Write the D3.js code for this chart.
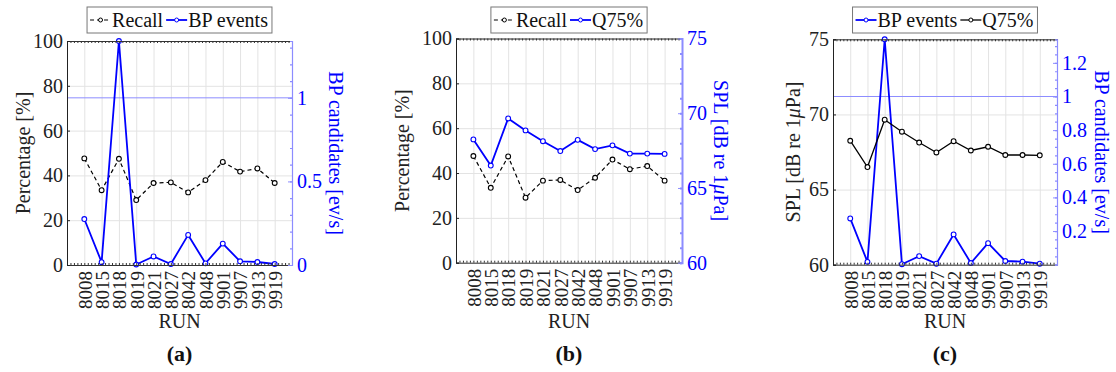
<!DOCTYPE html>
<html>
<head>
<meta charset="utf-8">
<script src="https://cdn.jsdelivr.net/npm/d3@7"></script>
<style>
  body { margin: 0; background: #fff; }
  svg { display: block; font-family: "Liberation Serif", serif; }
  .grid line { stroke: #e3e3e3; stroke-width: 1; }
  .grid path { display: none; }
</style>
</head>
<body>
<svg id="chart" width="1116" height="372"></svg>
<script>
// data
const runs = ["8008", "8015", "8018", "8019", "8021", "8027", "8042", "8048", "9901", "9907", "9913", "9919"];
const recall = [47.6, 33.4, 47.4, 29.0, 36.6, 36.9, 32.4, 37.9, 46.0, 41.7, 43.1, 36.6];
const q75 = [68.25, 66.5, 69.65, 68.85, 68.13, 67.47, 68.22, 67.6, 67.85, 67.3, 67.3, 67.28];
const bpEvents = [0.275, 0.017, 1.34, 0.003, 0.051, 0.006, 0.18, 0.01, 0.128, 0.022, 0.018, 0.006];

const pctTicks = [0, 20, 40, 60, 80, 100];
const splTicks = [60, 65, 70, 75];
const bpTicksA = [0, 0.5, 1];
const bpTicksC = [0.2, 0.4, 0.6, 0.8, 1, 1.2];

const BLUE = "#0000ff";
const AXBLUE = "#8c8cff";
const FONT = "Liberation Serif";

const svg = d3.select("#chart");

function splTitle(t) {
  t.append("tspan").text("SPL [dB re 1");
  t.append("tspan").attr("font-style", "italic").text("\u03bc");
  t.append("tspan").text("Pa]");
}

const panels = [
  {
    box: [67, 292, 41, 265], tag: "(a)",
    left: { domain: [0, 100], ticks: pctTicks, title: t => t.text("Percentage [%]"), tx: 23 },
    right: { domain: [0, d3.max(bpEvents)], ticks: bpTicksA, minor: 0.1, title: t => t.text("BP candidates [ev/s]"), tx: 336 },
    refLine: 1,
    series: [
      { name: "Recall", values: recall, axis: "left", color: "#000", width: 1.2, dash: "4,3" },
      { name: "BP events", values: bpEvents, axis: "right", color: BLUE, width: 1.8 }
    ]
  },
  {
    box: [456, 682, 38.5, 262.7], tag: "(b)",
    left: { domain: [0, 100], ticks: pctTicks, title: t => t.text("Percentage [%]"), tx: 402 },
    right: { domain: [60, 75], ticks: splTicks, minor: 1, title: splTitle, tx: 721, thick: true },
    series: [
      { name: "Recall", values: recall, axis: "left", color: "#000", width: 1.2, dash: "4,3" },
      { name: "Q75%", values: q75, axis: "right", color: BLUE, width: 1.8 }
    ]
  },
  {
    box: [833, 1057, 39.3, 264.7], tag: "(c)",
    left: { domain: [60, 75], ticks: splTicks, title: splTitle, tx: 793 },
    right: { domain: [0, d3.max(bpEvents)], ticks: bpTicksC, minor: 0.05, title: t => t.text("BP candidates [ev/s]"), tx: 1102 },
    refLine: 1,
    series: [
      { name: "BP events", values: bpEvents, axis: "right", color: BLUE, width: 1.8 },
      { name: "Q75%", values: q75, axis: "left", color: "#000", width: 1.3 }
    ]
  }
];

panels.forEach(p => {
  const [x0, x1, y0, y1] = p.box;
  const g = svg.append("g");

  const x = d3.scaleLinear().domain([0, runs.length + 1]).range([x0, x1]);
  const yL = d3.scaleLinear().domain(p.left.domain).range([y1, y0]);
  const yR = d3.scaleLinear().domain(p.right.domain).range([y1, y0]);

  // grid
  g.append("g").attr("class", "grid")
    .attr("transform", `translate(0,${y1})`)
    .call(d3.axisBottom(x).tickValues(d3.range(0, runs.length + 2)).tickSize(-(y1 - y0)).tickFormat(""));
  g.append("g").attr("class", "grid")
    .attr("transform", `translate(${x0},0)`)
    .call(d3.axisLeft(yL).tickValues(p.left.ticks).tickSize(-(x1 - x0)).tickFormat(""));

  if (p.refLine !== undefined) {
    g.append("line")
      .attr("x1", x0).attr("x2", x1)
      .attr("y1", yR(p.refLine)).attr("y2", yR(p.refLine))
      .attr("stroke", AXBLUE).attr("stroke-width", 1);
  }

  // series
  p.series.forEach(s => {
    const yS = s.axis === "left" ? yL : yR;
    const line = d3.line().x((d, i) => x(i + 1)).y(d => yS(d));
    g.append("path")
      .datum(s.values)
      .attr("fill", "none")
      .attr("stroke", s.color)
      .attr("stroke-width", s.width)
      .attr("stroke-dasharray", s.dash || null)
      .attr("d", line);
    g.selectAll(null)
      .data(s.values)
      .enter().append("circle")
        .attr("cx", (d, i) => x(i + 1))
        .attr("cy", d => yS(d))
        .attr("r", 2.4)
        .attr("fill", "#fff")
        .attr("stroke", s.color)
        .attr("stroke-width", 1.1);
  });

  // minor ticks along top and bottom
  const minorX = d3.range(0, runs.length + 1.01, 0.2);
  g.append("g")
    .attr("transform", `translate(0,${y1})`)
    .call(d3.axisBottom(x).tickValues(minorX).tickSize(-2).tickFormat(""))
    .call(a => a.selectAll("line,path").attr("stroke", "#333"));
  g.append("g")
    .attr("transform", `translate(0,${y0})`)
    .call(d3.axisTop(x).tickValues(minorX).tickSize(-2).tickFormat(""))
    .call(a => a.selectAll("line,path").attr("stroke", "#333"));

  // x labels
  g.append("g")
    .attr("transform", `translate(0,${y1})`)
    .call(d3.axisBottom(x).tickValues(d3.range(1, runs.length + 1)).tickSize(0).tickFormat(d => runs[d - 1]))
    .call(a => a.select(".domain").remove())
    .selectAll("text")
      .attr("transform", "rotate(-90)")
      .attr("text-anchor", "end")
      .attr("x", -6)
      .attr("y", 0)
      .attr("dy", "0.36em")
      .style("font-size", "19px")
      .style("font-family", FONT)
      .attr("fill", "#222");

  // left axis
  g.append("g")
    .attr("transform", `translate(${x0},0)`)
    .call(d3.axisLeft(yL).tickValues(p.left.ticks).tickSize(-3).tickPadding(4))
    .call(a => a.selectAll("line,path").attr("stroke", "#222"))
    .selectAll("text")
      .style("font-size", "20px")
      .style("font-family", FONT)
      .attr("fill", "#222");

  // right axis
  const minorR = d3.range(p.right.domain[0], p.right.domain[1] + 1e-9, p.right.minor);
  g.append("g")
    .attr("transform", `translate(${x1},0)`)
    .call(d3.axisRight(yR).tickValues(minorR).tickSize(-2).tickFormat(""))
    .call(a => a.selectAll("line,path").attr("stroke", AXBLUE).attr("stroke-width", p.right.thick ? 2 : 1.2));
  g.append("g")
    .attr("transform", `translate(${x1},0)`)
    .call(d3.axisRight(yR).tickValues(p.right.ticks).tickSize(-4).tickPadding(5).tickFormat(d3.format("")))
    .call(a => a.select(".domain").remove())
    .call(a => a.selectAll("line").attr("stroke", AXBLUE))
    .selectAll("text")
      .style("font-size", "20px")
      .style("font-family", FONT)
      .attr("fill", BLUE);

  // axis titles
  const ym = (y0 + y1) / 2;
  g.append("text")
    .attr("transform", `translate(${p.left.tx},${ym}) rotate(-90)`)
    .attr("text-anchor", "middle")
    .attr("dy", "0.35em")
    .style("font-size", "20px")
    .attr("fill", "#222")
    .call(p.left.title);
  g.append("text")
    .attr("transform", `translate(${p.right.tx},${ym}) rotate(90)`)
    .attr("text-anchor", "middle")
    .attr("dy", "0.35em")
    .style("font-size", "20px")
    .attr("fill", BLUE)
    .call(p.right.title);
  g.append("text")
    .attr("x", (x0 + x1) / 2)
    .attr("y", 328)
    .attr("text-anchor", "middle")
    .style("font-size", "20px")
    .attr("fill", "#222")
    .text("RUN");

  // panel tag
  g.append("text")
    .attr("x", (x0 + x1) / 2)
    .attr("y", 361)
    .attr("text-anchor", "middle")
    .style("font-size", "22px")
    .style("font-weight", "bold")
    .attr("fill", "#111")
    .text(p.tag);

  // legend
  const leg = g.append("g");
  const box = leg.append("rect")
    .attr("fill", "#fff")
    .attr("stroke", "#777")
    .attr("stroke-width", 1);
  let cx = 3;
  p.series.forEach(s => {
    leg.append("line")
      .attr("x1", cx).attr("x2", cx + 21)
      .attr("y1", 13).attr("y2", 13)
      .attr("stroke", s.color)
      .attr("stroke-width", s.width)
      .attr("stroke-dasharray", s.dash || null);
    leg.append("circle")
      .attr("cx", cx + 10.5).attr("cy", 13).attr("r", 2)
      .attr("fill", "#fff").attr("stroke", s.color).attr("stroke-width", 1);
    const t = leg.append("text")
      .attr("x", cx + 22)
      .attr("y", 19.5)
      .style("font-size", "20px")
      .attr("fill", "#111")
      .text(s.name);
    cx += 22 + t.node().getComputedTextLength() + 3;
  });
  const lw = cx + 1;
  box.attr("x", 0).attr("y", 0).attr("width", lw).attr("height", 26);
  leg.attr("transform", `translate(${(x0 + x1) / 2 - lw / 2},7)`);
});
</script>
</body>
</html>
